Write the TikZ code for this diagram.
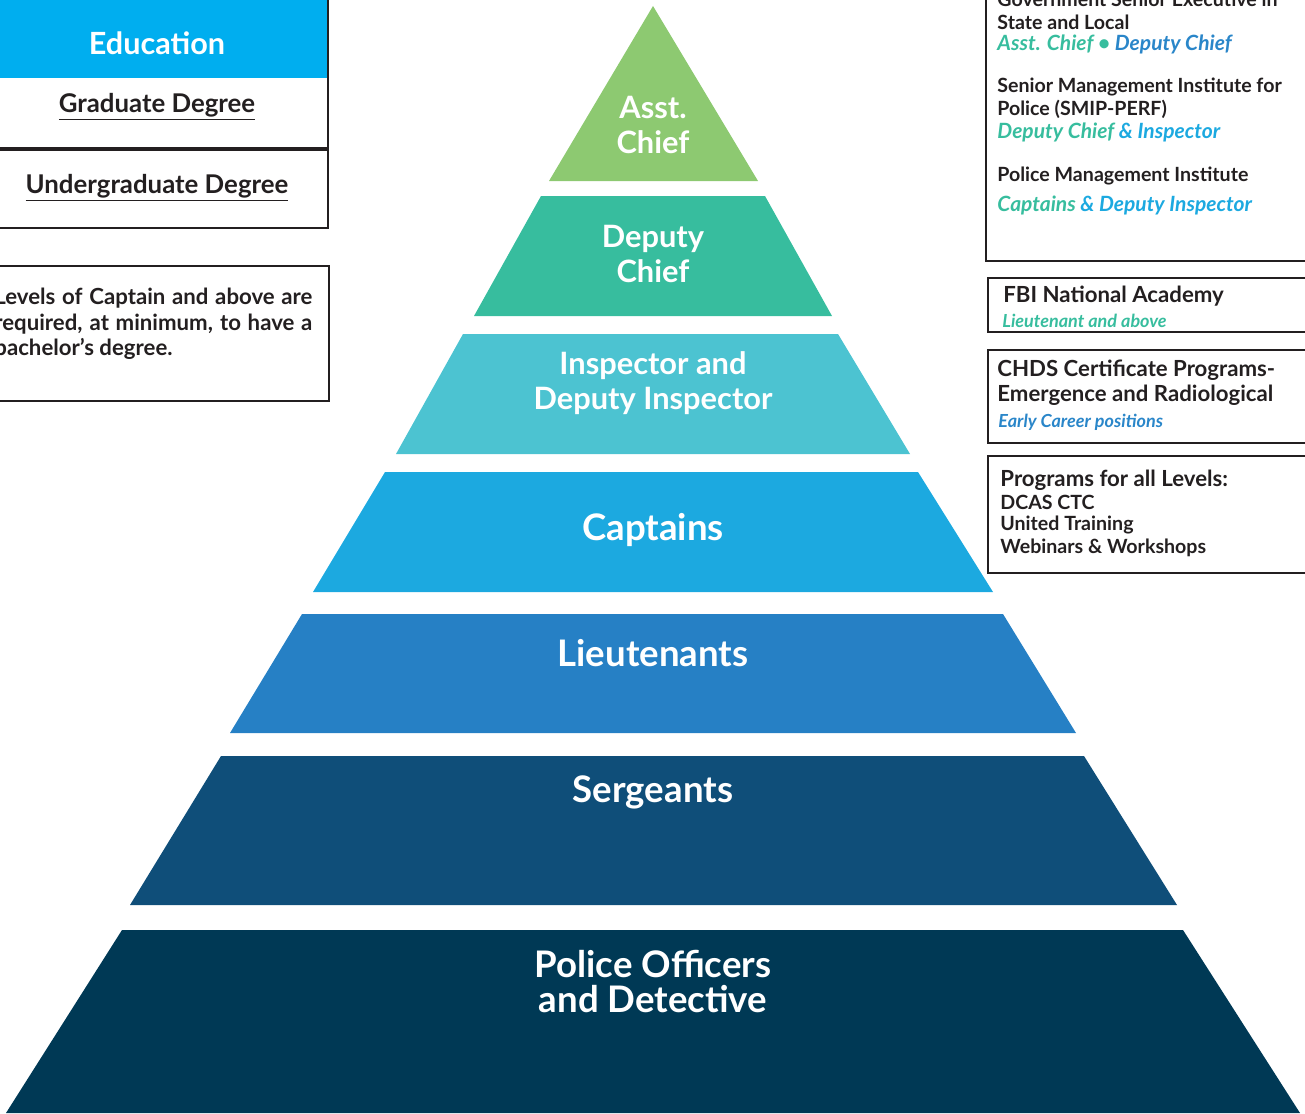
\documentclass[tikz,border=0pt]{standalone}
\usepackage{fontspec}
\setmainfont{Lato}
\usepackage{tikz}
\usetikzlibrary{positioning}
\definecolor{asst}{HTML}{8DC971}
\definecolor{dep}{HTML}{37BD9E}
\definecolor{insp}{HTML}{4CC3D1}
\definecolor{capt}{HTML}{1CA9E0}
\definecolor{lieu}{HTML}{2680C5}
\definecolor{serg}{HTML}{0F4E79}
\definecolor{offi}{HTML}{003955}
\definecolor{eduhead}{HTML}{00AEEF}
\definecolor{txtgreen}{HTML}{37BD9E}
\definecolor{txtblue}{HTML}{2A86C9}
\definecolor{txtcyan}{HTML}{1CA9E0}
\definecolor{ink}{HTML}{231F20}
\tikzstyle{lvl} = [text=white, font=\fontsize{18.3}{17.5}\selectfont\bfseries, align=center, inner sep=0pt]
\tikzstyle{lvltop} = [lvl, font=\fontsize{15.4}{17.5}\selectfont\bfseries]
\tikzstyle{edu} = [text=ink, font=\fontsize{12.9}{14}\selectfont\bfseries, inner sep=0pt]
\tikzstyle{prog} = [text=ink, font=\fontsize{9.8}{11}\selectfont\bfseries, anchor=west, inner sep=0pt]
\tikzstyle{progbig} = [prog, font=\fontsize{11.1}{12}\selectfont\bfseries]
\tikzstyle{who} = [font=\fontsize{10.5}{11}\selectfont\bfseries\itshape, anchor=west, inner sep=0pt]
\tikzstyle{whosmall} = [who, font=\fontsize{9}{10}\selectfont\bfseries\itshape]
\tikzstyle{frame} = [draw=ink, line width=1.2pt]
\newcommand{\gr}[1]{\textcolor{txtgreen}{#1}}
\newcommand{\bl}[1]{\textcolor{txtblue}{#1}}
\newcommand{\cy}[1]{\textcolor{txtcyan}{#1}}

\begin{document}
\begin{tikzpicture}[x=0.5pt, y=-0.5pt]
    \useasboundingbox (0,0) rectangle (1305,1113);
    \clip (0,0) rectangle (1305,1113);
    % pyramid layers
    \fill[asst] (653,6) -- (758,181) -- (549,181) -- cycle;
    \fill[dep] (541,196) -- (765,196) -- (832,316) -- (474,316) -- cycle;
    \fill[insp] (463,334) -- (838,334) -- (910,454) -- (396,454) -- cycle;
    \fill[capt] (385,472) -- (918,472) -- (993,592) -- (313,592) -- cycle;
    \fill[lieu] (302,614) -- (1003,614) -- (1076,733) -- (230,733) -- cycle;
    \fill[serg] (221,756) -- (1084,756) -- (1177,905) -- (130,905) -- cycle;
    \fill[offi] (122,930) -- (1183,930) -- (1300,1113) -- (6,1113) -- cycle;
    \node (AsstChief) [lvltop] at (653,125) {Asst.\\Chief};
    \node (DeputyChief) [lvltop] at (653,254) {Deputy\\Chief};
    \node (Inspector) [lvltop] at (653,383) {Inspector and\\Deputy Inspector};
    \node (Captains) [lvl] at (653,530) {Captains};
    \node (Lieutenants) [lvl] at (653,653) {Lieutenants};
    \node (Sergeants) [lvl] at (653,792) {Sergeants};
    \node (Officers) [lvl] at (653,981) {Police Officers\\and Detective};
    % education boxes
    \fill[eduhead] (-10,-10) rectangle (328,78);
    \draw[frame] (-10,148) -- (328,148) -- (328,-10);
    \draw[frame] (-10,150) rectangle (328,228);
    \draw[frame] (-10,266) rectangle (329,401);
    \node (Education) [text=white, font=\fontsize{15.3}{16}\selectfont\bfseries, inner sep=0pt] at (157,43) {Education};
    \node (Graduate) [edu] at (157,107) {\underline{Graduate Degree}};
    \node (Undergrad) [edu] at (157,188) {\underline{Undergraduate Degree}};
    \node (Note) [text=ink, font=\fontsize{11.1}{12.7}\selectfont\bfseries, align=justify, text width=159pt, anchor=north west, inner sep=0pt] at (-6,288)
        {Levels of Captain and above are\linebreak required, at minimum, to have a\linebreak bachelor's degree.};
    % programs
    \draw[frame] (986,-10) -- (986,261) -- (1315,261);
    \node (GovSenior) [prog] at (997,-1) {Government Senior Executive in};
    \node (StateLocal) [prog] at (997,22) {State and Local};
    \node (GovWho) [who] at (997,44) {\gr{Asst. Chief} \gr{\textbullet} \bl{Deputy Chief}};
    \node (SMIP) [prog] at (997,87) {Senior Management Institute for};
    \node (SMIPb) [prog] at (997,109) {Police (SMIP-PERF)};
    \node (SMIPWho) [who] at (997,132) {\gr{Deputy Chief} \cy{\& Inspector}};
    \node (PMI) [prog] at (997,176) {Police Management Institute};
    \node (PMIWho) [who] at (997,205) {\gr{Captains} \cy{\& Deputy Inspector}};
    \draw[frame] (1315,278) -- (988,278) -- (988,332) -- (1315,332);
    \node (FBI) [progbig] at (1003,296) {FBI National Academy};
    \node (FBIWho) [whosmall] at (1002,321) {\gr{Lieutenant and above}};
    \draw[frame] (1315,350) -- (988,350) -- (988,443) -- (1315,443);
    \node (CHDS) [progbig] at (997,370) {CHDS Certificate Programs-};
    \node (CHDSb) [progbig] at (997,395) {Emergence and Radiological};
    \node (CHDSWho) [whosmall] at (998,422) {\bl{Early Career positions}};
    \draw[frame] (1315,456) -- (988,456) -- (988,573) -- (1315,573);
    \node (AllLevels) [progbig] at (1000,480) {Programs for all Levels:};
    \node (DCAS) [prog] at (1000,502) {DCAS CTC};
    \node (United) [prog] at (1000,525) {United Training};
    \node (Webinars) [prog] at (1000,548) {Webinars \& Workshops};
\end{tikzpicture}
\end{document}
